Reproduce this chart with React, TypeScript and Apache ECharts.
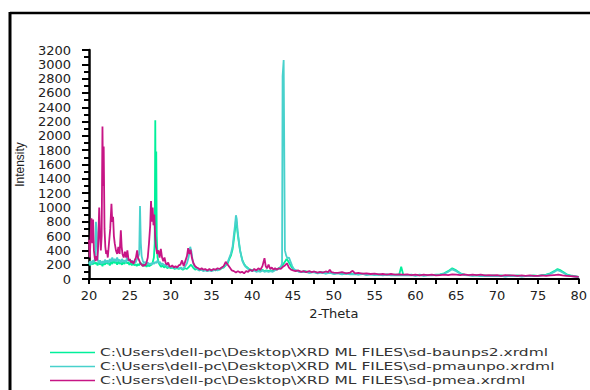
import React, { useEffect, useRef } from "react";
import * as echarts from "echarts";

// 2-Theta (deg) vs Intensity (counts)
const baunps2: [number, number][] = [
  [20.0, 230], [20.15, 190], [20.3, 240], [20.45, 200], [20.6, 250], [20.75, 210], [20.9, 230], [21.05, 190],
  [21.2, 240], [21.35, 200], [21.5, 220], [21.65, 180], [21.8, 230], [21.95, 200], [22.1, 250], [22.25, 210],
  [22.4, 230], [22.55, 190], [22.7, 240], [22.85, 210], [23.0, 260], [23.15, 220], [23.3, 240], [23.45, 200],
  [23.6, 250], [23.75, 210], [23.9, 230], [24.05, 200], [24.2, 240], [24.35, 210], [24.5, 250], [24.65, 220],
  [24.8, 230], [24.95, 200], [25.1, 230], [25.25, 190], [25.4, 220], [25.55, 190], [25.7, 210], [25.85, 180],
  [26.0, 210], [26.15, 190], [26.3, 230], [26.45, 200], [26.6, 210], [26.75, 180], [26.9, 200], [27.05, 170],
  [27.2, 200], [27.35, 180], [27.5, 190], [27.65, 200], [27.8, 230], [27.95, 300], [28.05, 500], [28.12, 2220],
  [28.18, 700], [28.24, 1780], [28.3, 600], [28.4, 300], [28.55, 220], [28.7, 190], [28.85, 170], [29.0, 190],
  [29.2, 160], [29.4, 180], [29.6, 150], [29.8, 170], [30.0, 150], [30.25, 160], [30.5, 140], [30.75, 150],
  [31.0, 140], [31.25, 150], [31.5, 130], [31.75, 150], [32.0, 140], [32.25, 170], [32.5, 200], [32.75, 160],
  [33.0, 130], [33.25, 140], [33.5, 120], [33.75, 130], [34.0, 120], [34.25, 130], [34.5, 110], [34.75, 130],
  [35.0, 120], [35.25, 130], [35.5, 120], [35.75, 140], [36.0, 130], [36.25, 150], [36.5, 160], [36.75, 190],
  [37.0, 220], [37.2, 280], [37.4, 330], [37.6, 420], [37.75, 550], [37.9, 700], [38.0, 820], [38.1, 780],
  [38.2, 650], [38.35, 520], [38.5, 400], [38.65, 330], [38.8, 260], [39.0, 210], [39.2, 180], [39.4, 160],
  [39.6, 140], [39.8, 130], [40.0, 120], [40.25, 130], [40.5, 110], [40.75, 120], [41.0, 110], [41.25, 130],
  [41.5, 110], [41.75, 120], [42.0, 110], [42.25, 120], [42.5, 110], [42.75, 130], [43.0, 140], [43.25, 150],
  [43.5, 170], [43.75, 200], [44.0, 240], [44.2, 280], [44.4, 250], [44.6, 210], [44.8, 170], [45.0, 140],
  [45.3, 120], [45.6, 110], [46.0, 100], [46.5, 110], [47.0, 90], [47.5, 100], [48.0, 85], [48.5, 95],
  [49.0, 80], [49.5, 90], [50.0, 75], [50.5, 85], [51.0, 70], [51.5, 80], [52.0, 70], [52.5, 75],
  [53.0, 65], [53.5, 75], [54.0, 60], [54.5, 70], [55.0, 60], [55.5, 65], [56.0, 55], [56.5, 65],
  [57.0, 55], [57.5, 60], [58.0, 60], [58.25, 170], [58.5, 60], [59.0, 55], [59.5, 60], [60.0, 50],
  [60.5, 60], [61.0, 50], [61.5, 55], [62.0, 55], [62.5, 60], [63.0, 65], [63.5, 80], [64.0, 110],
  [64.5, 150], [65.0, 120], [65.5, 80], [66.0, 60], [66.5, 55], [67.0, 50], [67.5, 55], [68.0, 45],
  [68.5, 50], [69.0, 45], [69.5, 50], [70.0, 45], [70.5, 50], [71.0, 40], [71.5, 50], [72.0, 45],
  [72.5, 50], [73.0, 40], [73.5, 45], [74.0, 45], [74.5, 50], [75.0, 45], [75.5, 55], [76.0, 60],
  [76.5, 80], [77.0, 110], [77.4, 140], [77.8, 120], [78.2, 90], [78.6, 60], [79.0, 50], [79.5, 40], [80.0, 30],
];

const pmaunpo: [number, number][] = [
  [20.0, 210], [20.15, 250], [20.3, 200], [20.45, 260], [20.6, 230], [20.75, 300], [20.85, 800], [20.95, 650],
  [21.05, 280], [21.2, 220], [21.35, 260], [21.5, 210], [21.65, 250], [21.8, 220], [21.95, 270], [22.1, 230],
  [22.25, 260], [22.4, 220], [22.55, 280], [22.7, 240], [22.85, 300], [23.0, 250], [23.15, 280], [23.3, 240],
  [23.45, 300], [23.6, 250], [23.75, 270], [23.9, 230], [24.05, 280], [24.2, 240], [24.35, 260], [24.5, 230],
  [24.65, 300], [24.8, 250], [24.95, 270], [25.1, 230], [25.25, 260], [25.4, 220], [25.55, 250], [25.7, 230],
  [25.85, 270], [26.0, 300], [26.15, 350], [26.25, 1020], [26.35, 500], [26.45, 320], [26.6, 250], [26.75, 220],
  [26.9, 240], [27.05, 210], [27.2, 230], [27.35, 200], [27.5, 220], [27.65, 200], [27.8, 230], [27.95, 210],
  [28.1, 240], [28.25, 220], [28.4, 260], [28.55, 220], [28.7, 240], [28.85, 200], [29.0, 220], [29.2, 190],
  [29.4, 200], [29.6, 170], [29.8, 180], [30.0, 160], [30.25, 170], [30.5, 150], [30.75, 160], [31.0, 150],
  [31.25, 160], [31.5, 140], [31.75, 170], [32.0, 220], [32.2, 300], [32.4, 450], [32.55, 380], [32.7, 250],
  [32.9, 180], [33.1, 150], [33.3, 140], [33.5, 120], [33.75, 130], [34.0, 110], [34.25, 120], [34.5, 110],
  [34.75, 120], [35.0, 110], [35.25, 120], [35.5, 130], [35.75, 120], [36.0, 140], [36.25, 150], [36.5, 170],
  [36.75, 200], [37.0, 240], [37.2, 300], [37.4, 360], [37.6, 460], [37.75, 620], [37.9, 760], [38.0, 890],
  [38.1, 840], [38.2, 680], [38.35, 540], [38.5, 410], [38.65, 320], [38.8, 250], [39.0, 200], [39.2, 170],
  [39.4, 150], [39.6, 130], [39.8, 120], [40.0, 110], [40.25, 120], [40.5, 100], [40.75, 110], [41.0, 100],
  [41.25, 120], [41.5, 100], [41.75, 110], [42.0, 100], [42.25, 110], [42.5, 100], [42.75, 120], [43.0, 130],
  [43.25, 140], [43.5, 160], [43.65, 220], [43.72, 2835], [43.8, 2835], [43.85, 3060], [43.92, 3060], [44.0, 400], [44.15, 330], [44.3, 290],
  [44.5, 300], [44.7, 240], [44.9, 180], [45.1, 140], [45.4, 120], [45.7, 100], [46.0, 95], [46.5, 100],
  [47.0, 85], [47.5, 95], [48.0, 80], [48.5, 90], [49.0, 75], [49.5, 85], [50.0, 70], [50.5, 80],
  [51.0, 65], [51.5, 75], [52.0, 65], [52.5, 70], [53.0, 60], [53.5, 70], [54.0, 55], [54.5, 65],
  [55.0, 55], [55.5, 60], [56.0, 50], [56.5, 60], [57.0, 50], [57.5, 55], [58.0, 50], [58.5, 55],
  [59.0, 50], [59.5, 55], [60.0, 45], [60.5, 55], [61.0, 45], [61.5, 50], [62.0, 50], [62.5, 55],
  [63.0, 60], [63.5, 75], [64.0, 100], [64.5, 135], [65.0, 110], [65.5, 75], [66.0, 55], [66.5, 50],
  [67.0, 45], [67.5, 50], [68.0, 40], [68.5, 45], [69.0, 40], [69.5, 45], [70.0, 40], [70.5, 45],
  [71.0, 35], [71.5, 45], [72.0, 40], [72.5, 45], [73.0, 35], [73.5, 40], [74.0, 40], [74.5, 45],
  [75.0, 40], [75.5, 50], [76.0, 55], [76.5, 70], [77.0, 100], [77.4, 125], [77.8, 105], [78.2, 80],
  [78.6, 55], [79.0, 45], [79.5, 35], [80.0, 25],
];

const pmea: [number, number][] = [
  [20.0, 550], [20.1, 300], [20.2, 600], [20.3, 850], [20.4, 500], [20.5, 830], [20.6, 400], [20.7, 300],
  [20.8, 250], [20.9, 320], [21.0, 260], [21.1, 400], [21.25, 1000], [21.35, 600], [21.45, 400], [21.55, 600],
  [21.65, 2130], [21.72, 1300], [21.8, 1850], [21.9, 700], [22.0, 450], [22.1, 350], [22.2, 400], [22.3, 300],
  [22.45, 500], [22.6, 700], [22.75, 1050], [22.85, 800], [22.95, 870], [23.05, 600], [23.15, 500], [23.3, 400],
  [23.45, 350], [23.6, 450], [23.75, 350], [23.9, 680], [24.0, 450], [24.1, 350], [24.25, 300], [24.4, 380],
  [24.55, 300], [24.7, 400], [24.85, 260], [25.0, 280], [25.15, 230], [25.3, 250], [25.45, 210], [25.6, 260],
  [25.75, 300], [25.9, 400], [26.0, 300], [26.15, 260], [26.3, 220], [26.45, 200], [26.6, 180], [26.75, 200],
  [26.9, 190], [27.05, 230], [27.2, 300], [27.35, 500], [27.5, 750], [27.6, 1090], [27.7, 800], [27.8, 1000],
  [27.9, 750], [28.0, 900], [28.1, 600], [28.2, 450], [28.35, 350], [28.5, 400], [28.65, 300], [28.8, 420],
  [28.95, 300], [29.1, 250], [29.25, 300], [29.4, 220], [29.55, 200], [29.7, 230], [29.85, 180], [30.0, 170],
  [30.2, 190], [30.4, 160], [30.6, 180], [30.8, 160], [31.0, 190], [31.2, 200], [31.4, 260], [31.6, 180],
  [31.8, 250], [32.0, 320], [32.15, 430], [32.3, 350], [32.45, 410], [32.6, 300], [32.8, 220], [33.0, 180],
  [33.2, 160], [33.4, 150], [33.6, 130], [33.8, 150], [34.0, 130], [34.25, 140], [34.5, 120], [34.75, 140],
  [35.0, 120], [35.25, 140], [35.5, 130], [35.75, 150], [36.0, 140], [36.25, 160], [36.5, 180], [36.75, 240],
  [37.0, 200], [37.25, 160], [37.5, 120], [37.75, 110], [38.0, 90], [38.25, 110], [38.5, 90], [38.75, 100],
  [39.0, 80], [39.25, 110], [39.5, 100], [39.75, 130], [40.0, 110], [40.25, 140], [40.5, 120], [40.75, 150],
  [41.0, 130], [41.25, 180], [41.5, 290], [41.65, 180], [41.8, 150], [42.0, 200], [42.2, 140], [42.4, 160],
  [42.6, 130], [42.8, 150], [43.0, 130], [43.25, 150], [43.5, 140], [43.75, 170], [44.0, 190], [44.25, 220],
  [44.5, 160], [44.75, 130], [45.0, 120], [45.3, 110], [45.6, 120], [46.0, 100], [46.3, 110], [46.6, 95],
  [47.0, 110], [47.3, 95], [47.6, 105], [48.0, 90], [48.3, 100], [48.6, 90], [49.0, 105], [49.3, 95],
  [49.5, 130], [49.7, 95], [50.0, 90], [50.5, 85], [51.0, 95], [51.5, 80], [52.0, 90], [52.3, 115],
  [52.6, 80], [53.0, 85], [53.5, 75], [54.0, 80], [54.5, 70], [55.0, 75], [55.5, 65], [56.0, 70],
  [56.5, 60], [57.0, 70], [57.5, 60], [58.0, 65], [58.5, 60], [59.0, 65], [59.5, 55], [60.0, 60],
  [60.5, 50], [61.0, 60], [61.5, 55], [62.0, 60], [62.5, 50], [63.0, 55], [63.5, 60], [64.0, 55],
  [64.5, 65], [65.0, 60], [65.5, 55], [66.0, 65], [66.5, 55], [67.0, 60], [67.5, 55], [68.0, 60],
  [68.5, 50], [69.0, 55], [69.5, 50], [70.0, 55], [70.5, 45], [71.0, 55], [71.5, 50], [72.0, 50],
  [72.5, 45], [73.0, 50], [73.5, 45], [74.0, 50], [74.5, 45], [75.0, 45], [75.5, 50], [76.0, 45],
  [76.5, 50], [77.0, 55], [77.5, 60], [78.0, 50], [78.5, 45], [79.0, 40], [79.5, 35], [80.0, 30],
];

const seriesNames = [
  "C:\\Users\\dell-pc\\Desktop\\XRD ML FILES\\sd-baunps2.xrdml",
  "C:\\Users\\dell-pc\\Desktop\\XRD ML FILES\\sd-pmaunpo.xrdml",
  "C:\\Users\\dell-pc\\Desktop\\XRD ML FILES\\sd-pmea.xrdml",
];
const seriesColors = ["#00f09a", "#48d1cc", "#c71585"];
const seriesData = [baunps2, pmaunpo, pmea];

export default function App() {
  const ref = useRef<HTMLDivElement>(null);
  useEffect(() => {
    if (!ref.current) return;
    const chart = echarts.init(ref.current, undefined, { renderer: "svg" });
    const legendGraphics: any[] = [];
    seriesNames.forEach((name, i) => {
      const y = 352.5 + i * 14;
      legendGraphics.push({
        type: "line",
        shape: { x1: 50, y1: y, x2: 95, y2: y },
        style: { stroke: seriesColors[i], lineWidth: 1.5 },
      });
      legendGraphics.push({
        type: "text",
        x: 100,
        y: y,
        scaleX: 1.41,
        style: {
          text: name,
          font: "11px 'DejaVu Sans'",
          fill: "#333",
          textVerticalAlign: "middle",
          verticalAlign: "middle",
        },
      });
    });
    chart.setOption({
      animation: false,
      backgroundColor: "#fff",
      grid: { left: 89, right: 3, top: 50, bottom: 111, containLabel: false },
      xAxis: {
        type: "value",
        min: 20,
        max: 80,
        interval: 5,
        name: "2-Theta",
        nameLocation: "middle",
        nameGap: 24,
        nameTextStyle: { fontFamily: "DejaVu Sans", fontSize: 13, color: "#222" },
        axisLine: { show: true, onZero: false, lineStyle: { color: "#000", width: 2 } },
        axisTick: { show: true, inside: false, length: 5, lineStyle: { color: "#000", width: 2 } },
        minorTick: { show: true, splitNumber: 2, length: 5, lineStyle: { color: "#000", width: 2 } },
        axisLabel: { margin: 10, fontFamily: "DejaVu Sans", fontSize: 13, color: "#222" },
        splitLine: { show: false },
      },
      yAxis: {
        type: "value",
        min: 0,
        max: 3200,
        interval: 200,
        name: "Intensity",
        nameLocation: "middle",
        nameRotate: 90,
        nameGap: 63,
        nameTextStyle: { fontFamily: "Liberation Sans", fontSize: 12, color: "#222" },
        axisLine: { show: true, lineStyle: { color: "#000", width: 2.5 } },
        axisTick: { show: true, length: 7, lineStyle: { color: "#000", width: 2 } },
        minorTick: { show: true, splitNumber: 2, length: 5, lineStyle: { color: "#000", width: 2 } },
        axisLabel: {
          margin: 18,
          fontFamily: "DejaVu Sans",
          fontSize: 13,
          color: "#222",
          formatter: (v: number) => String(v),
        },
        splitLine: { show: false },
      },
      series: seriesData.map((d, i) => ({
        name: seriesNames[i],
        type: "line",
        data: d,
        showSymbol: false,
        symbol: "none",
        lineStyle: { color: seriesColors[i], width: 1.8 },
        itemStyle: { color: seriesColors[i] },
        z: 2 + i,
      })),
      graphic: [
        {
          type: "line",
          shape: { x1: 10, y1: 13, x2: 590, y2: 13 },
          style: { stroke: "#000", lineWidth: 2.5 },
        },
        {
          type: "line",
          shape: { x1: 10, y1: 12, x2: 10, y2: 390 },
          style: { stroke: "#000", lineWidth: 3 },
        },
        ...legendGraphics,
      ],
    });
    return () => chart.dispose();
  }, []);
  return (
    <div
      ref={ref}
      style={{ position: "fixed", left: 0, top: 0, width: 590, height: 390, background: "#fff" }}
    />
  );
}
